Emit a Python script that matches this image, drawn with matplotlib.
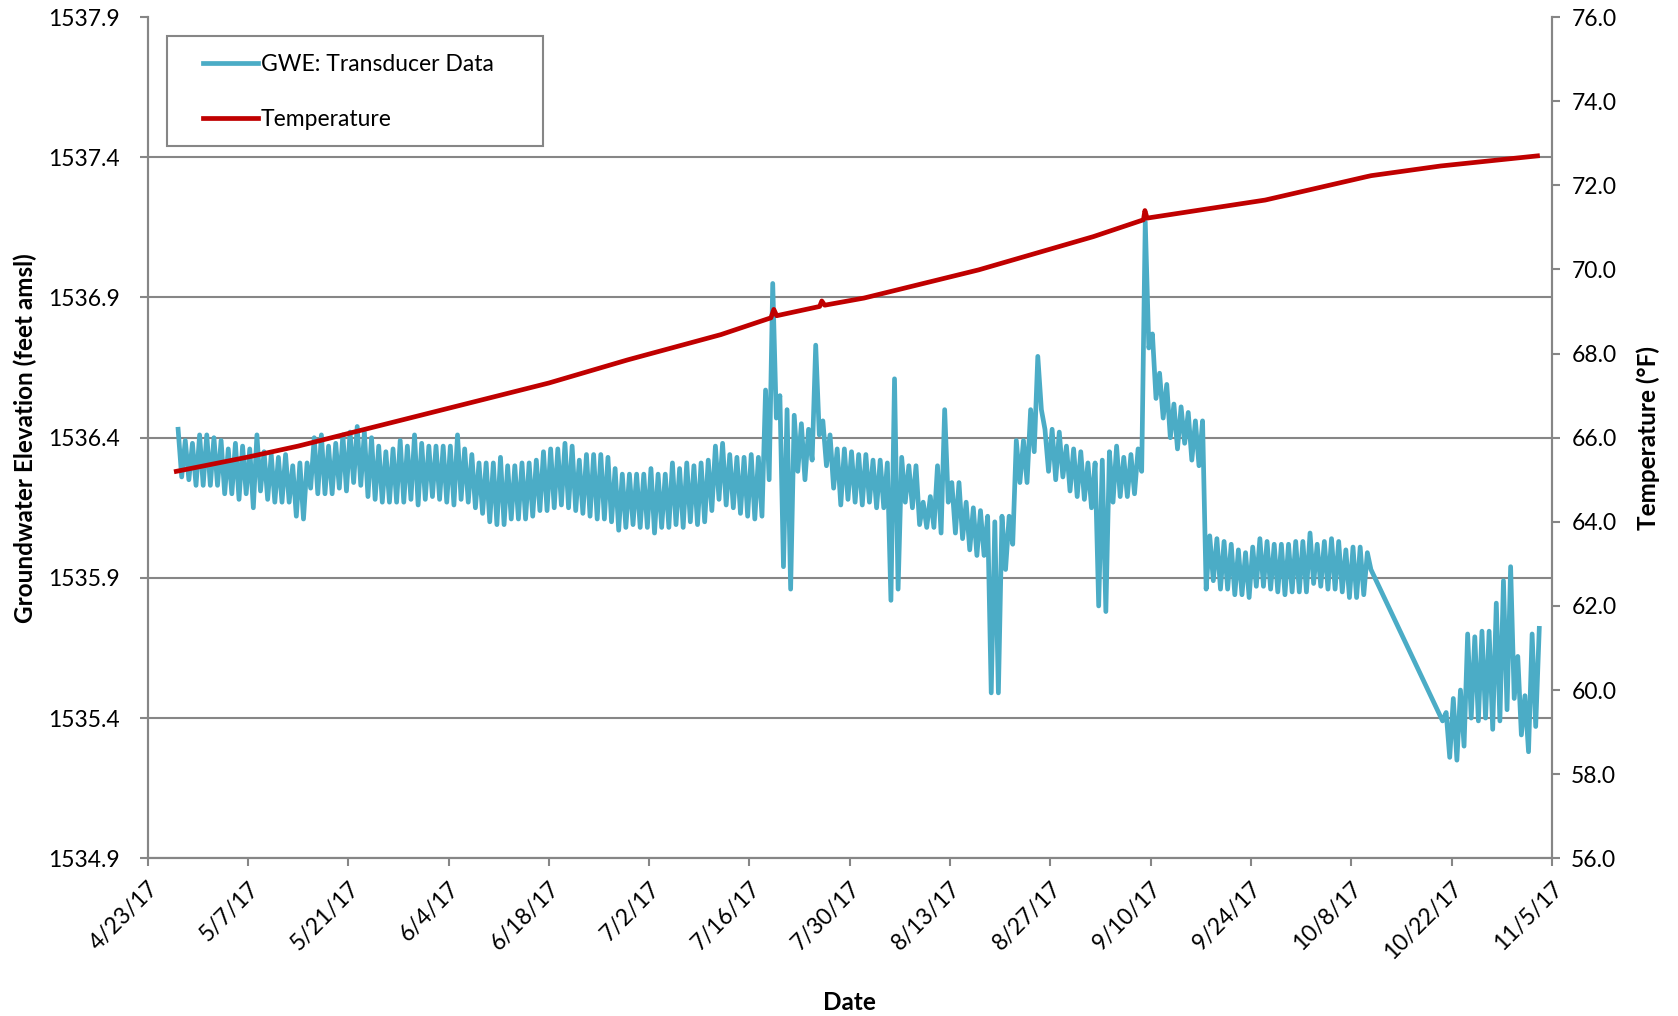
"""
Groundwater elevation (transducer) and temperature, Apr-Nov 2017.
"""

import datetime as dt
import numpy as np
import matplotlib
matplotlib.use('Agg')
import matplotlib.pyplot as plt
from matplotlib.patches import Rectangle
from matplotlib.ticker import FuncFormatter, MultipleLocator
import matplotlib.dates as mdates

plt.rcParams['font.family'] = ['Lato', 'DejaVu Sans']

# ---- data ----
start = dt.datetime(2017, 4, 23)
first_day = 4                      # first record on 4/27/17 (days after 4/23)
nan = np.nan

# daily high / low of the transducer record (feet amsl), 4/27 .. 11/3
gwe_high = [
    1536.43, 1536.39, 1536.38, 1536.41, 1536.41, 1536.40, 1536.39, 1536.36, 1536.38, 1536.37,
    1536.36, 1536.41, 1536.35, 1536.34, 1536.33, 1536.34, 1536.30, 1536.31, 1536.31, 1536.40,
    1536.41, 1536.37, 1536.38, 1536.41, 1536.42, 1536.44, 1536.42, 1536.40, 1536.37, 1536.35,
    1536.36, 1536.39,
    1536.37, 1536.41, 1536.38, 1536.37, 1536.37, 1536.37, 1536.37, 1536.41, 1536.36, 1536.34,
    1536.31, 1536.31, 1536.31, 1536.33, 1536.30, 1536.30, 1536.31, 1536.31, 1536.32, 1536.35,
    1536.36, 1536.36, 1536.38, 1536.37, 1536.32, 1536.34, 1536.34, 1536.34, 1536.33, 1536.29,
    1536.27, 1536.27,
    1536.27, 1536.27, 1536.29, 1536.27, 1536.27, 1536.31, 1536.29, 1536.31, 1536.30, 1536.31,
    1536.32, 1536.37, 1536.38, 1536.34, 1536.33, 1536.33, 1536.34, 1536.33, 1536.57, 1536.95,
    1536.55, 1536.50, 1536.48, 1536.45, 1536.43, 1536.73, 1536.46, 1536.41, 1536.36, 1536.36,
    1536.35, 1536.34,
    1536.34, 1536.32, 1536.32, 1536.31, 1536.61, 1536.33, 1536.30, 1536.30, 1536.17, 1536.19,
    1536.30, 1536.50, 1536.24, 1536.24, 1536.17, 1536.15, 1536.14, 1536.12, 1536.10, 1536.12,
    1536.12, 1536.39, 1536.39, 1536.50, 1536.69, 1536.43, 1536.43, 1536.42, 1536.37, 1536.36,
    1536.35, 1536.31,
    1536.31, 1536.32, 1536.35, 1536.37, 1536.33, 1536.34, 1536.36, 1537.17, 1536.77, 1536.63,
    1536.59, 1536.52, 1536.51, 1536.49, 1536.46, 1536.46, 1536.05, 1536.04, 1536.03, 1536.02,
    1536.00, 1535.99, 1536.01, 1536.04, 1536.03, 1536.02, 1536.02, 1536.02, 1536.03, 1536.03,
    1536.06, 1536.02, 1536.03,
    1536.04, 1536.03, 1536.00, 1536.01, 1536.01, 1535.99,
    nan, nan, nan, nan, nan, nan, nan, nan, nan, nan,
    1535.42, 1535.47, 1535.50, 1535.70, 1535.69, 1535.71, 1535.71, 1535.81, 1535.89, 1535.94,
    1535.62, 1535.48, 1535.70, 1535.72,
]
gwe_low = [
    1536.26, 1536.25, 1536.23, 1536.23, 1536.23, 1536.23, 1536.20, 1536.20, 1536.18, 1536.20,
    1536.15, 1536.21, 1536.18, 1536.17, 1536.17, 1536.17, 1536.12, 1536.11, 1536.22, 1536.20,
    1536.20, 1536.20, 1536.22, 1536.21, 1536.24, 1536.23, 1536.19, 1536.18, 1536.17, 1536.17,
    1536.17, 1536.17,
    1536.18, 1536.16, 1536.18, 1536.19, 1536.18, 1536.17, 1536.16, 1536.18, 1536.17, 1536.15,
    1536.13, 1536.10, 1536.09, 1536.09, 1536.11, 1536.11, 1536.11, 1536.12, 1536.14, 1536.14,
    1536.15, 1536.16, 1536.15, 1536.14, 1536.13, 1536.12, 1536.11, 1536.11, 1536.10, 1536.07,
    1536.08, 1536.09,
    1536.08, 1536.08, 1536.06, 1536.08, 1536.08, 1536.09, 1536.08, 1536.10, 1536.09, 1536.10,
    1536.14, 1536.18, 1536.16, 1536.15, 1536.13, 1536.12, 1536.11, 1536.12, 1536.25, 1536.47,
    1535.94, 1535.86, 1536.28, 1536.25, 1536.32, 1536.41, 1536.30, 1536.22, 1536.16, 1536.18,
    1536.17, 1536.16,
    1536.17, 1536.15, 1536.15, 1535.82, 1535.86, 1536.17, 1536.15, 1536.09, 1536.08, 1536.08,
    1536.06, 1536.17, 1536.06, 1536.04, 1536.00, 1535.98, 1535.98, 1535.49, 1535.49, 1535.93,
    1536.02, 1536.24, 1536.24, 1536.35, 1536.50, 1536.28, 1536.25, 1536.26, 1536.21, 1536.19,
    1536.18, 1536.15,
    1535.80, 1535.78, 1536.17, 1536.19, 1536.19, 1536.20, 1536.28, 1536.72, 1536.54, 1536.47,
    1536.40, 1536.36, 1536.38, 1536.32, 1536.30, 1535.86, 1535.89, 1535.86, 1535.86, 1535.84,
    1535.84, 1535.83, 1535.87, 1535.87, 1535.86, 1535.85, 1535.84, 1535.85, 1535.85, 1535.85,
    1535.88, 1535.87, 1535.86,
    1535.86, 1535.85, 1535.83, 1535.83, 1535.84, 1535.93,
    nan, nan, nan, nan, nan, nan, nan, nan, nan, 1535.39,
    1535.26, 1535.25, 1535.30, 1535.40, 1535.39, 1535.40, 1535.36, 1535.39, 1535.43, 1535.47,
    1535.34, 1535.28, 1535.37, nan,
]

# temperature (deg F), days after 4/23
temp_day = [4, 14, 21, 28, 42, 56, 67, 80, 87, 87.4, 87.8, 93.8, 94.1, 94.5, 100, 116,
            132, 139, 139.2, 139.5, 156, 170, 170.8, 180.5, 194]
temp_f = [65.2, 65.54, 65.8, 66.1, 66.7, 67.3, 67.85, 68.45, 68.85, 69.05, 68.9, 69.12, 69.25,
          69.15, 69.32, 69.99, 70.78, 71.18, 71.4, 71.22, 71.65, 72.2, 72.23, 72.46, 72.7]

gwe_ticks = [1534.9, 1535.4, 1535.9, 1536.4, 1536.9, 1537.4, 1537.9]
tick_step = 14       # days between date ticks
n_ticks = 15         # 4/23/17 .. 11/5/17

# ---- build series ----
days = np.arange(len(gwe_high)) + first_day
t = np.empty(2 * len(days))
v = np.empty(2 * len(days))
t[0::2] = days + 0.25
t[1::2] = days + 0.75
v[0::2] = gwe_high
v[1::2] = gwe_low
keep = ~np.isnan(v)
gwe_dates = [start + dt.timedelta(days=float(d)) for d in t[keep]]
temp_dates = [start + dt.timedelta(days=float(d)) for d in temp_day]

# ---- figure ----
gray = '#868686'
fig = plt.figure(figsize=(16.78, 10.16), dpi=100)
ax = fig.add_axes([0.088, 0.1552, 0.8368, 0.828])
ax2 = ax.twinx()

ax.plot(gwe_dates, v[keep], color='#4BACC6', lw=3.4, solid_joinstyle='round',
        label='GWE: Transducer Data')
ax2.plot(temp_dates, temp_f, color='#C00000', lw=3.4, label='Temperature')

ax.set_ylim(gwe_ticks[0], gwe_ticks[-1])
ax.set_yticks(gwe_ticks)
ax.yaxis.set_major_formatter(FuncFormatter(lambda y, p: f'{y:.1f}'))
ax2.set_ylim(56, 76)
ax2.yaxis.set_major_locator(MultipleLocator(2))
ax2.yaxis.set_major_formatter(FuncFormatter(lambda y, p: f'{y:.1f}'))

ticks = [start + dt.timedelta(days=tick_step * k) for k in range(n_ticks)]
ax.set_xlim(ticks[0], ticks[-1])
ax.set_xticks(ticks)
ax.xaxis.set_major_formatter(FuncFormatter(
    lambda x, p: '{d.month}/{d.day}/{d:%y}'.format(d=mdates.num2date(x))))
plt.setp(ax.get_xticklabels(), rotation=45, ha='right', rotation_mode='anchor')

ax.yaxis.grid(True, color=gray, lw=1.5)
ax.set_axisbelow(True)
ax.get_ygridlines()[-1].set_visible(False)

for a in (ax, ax2):
    a.spines['top'].set_visible(False)
    for s in ('left', 'right', 'bottom'):
        a.spines[s].set_color(gray)
        a.spines[s].set_linewidth(1.5)
    a.tick_params(direction='out', length=6, width=1.5, color=gray, labelsize=16.5)
ax.tick_params(axis='y', pad=14)
ax.tick_params(axis='x', pad=8)
ax2.tick_params(axis='y', pad=8)

ax.set_ylabel('Groundwater Elevation (feet amsl)', fontsize=17.5, fontweight='bold', labelpad=8)
ax2.set_ylabel('Temperature (\u00b0F)', fontsize=17.5, fontweight='bold', labelpad=14)
ax.set_xlabel('Date', fontsize=17.5, fontweight='bold', labelpad=20)

# legend: frame drawn separately so the inner padding matches the original box
fig.patches.append(Rectangle((0.0995, 0.856), 0.224, 0.1086, transform=fig.transFigure,
                             fill=False, edgecolor=gray, linewidth=1.5, zorder=5))
h1, l1 = ax.get_legend_handles_labels()
h2, l2 = ax2.get_legend_handles_labels()
ax2.legend(h1 + h2, l1 + l2, loc='upper left', bbox_to_anchor=(0.121, 0.947),
           bbox_transform=fig.transFigure, fontsize=16.5, frameon=False,
           borderpad=0, labelspacing=1.5, handlelength=2.4, handletextpad=0.12,
           borderaxespad=0)

plt.savefig('out.png', dpi=100, facecolor='white')
